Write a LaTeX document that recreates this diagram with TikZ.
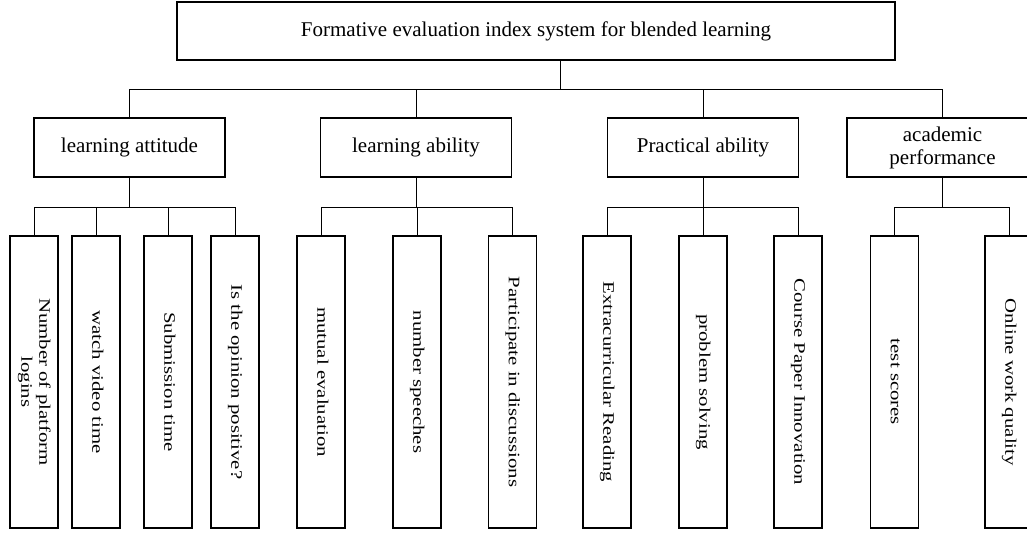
\documentclass[tikz,border=0pt]{standalone}
\usepackage{fontspec}
\setmainfont{Liberation Serif}
\usepackage{graphicx}
\newcommand{\vlabel}[1]{\rotatebox{-90}{\scalebox{1.3}[1]{\begin{tabular}{@{}c@{}}#1\end{tabular}}}}

\begin{document}
\begin{tikzpicture}[x=1pt,y=-1pt,
	box/.style={draw,line width=1.2pt,inner sep=0pt,minimum width=191pt,minimum height=59pt,align=center,font=\fontsize{21}{23}\selectfont},
	leaf/.style={draw,line width=1.2pt,inner sep=0pt,minimum width=48pt,minimum height=292pt,font=\fontsize{16}{18}\selectfont},
	link/.style={line width=1pt}]
		\useasboundingbox (0,0) rectangle (1027,533);
		%\draw [help lines] (0,0) grid (1027,533);
		% Root
		\node [box,minimum width=718pt,minimum height=58pt] (top) at (536,31) {Formative evaluation index system for blended learning};
		
		% Criteria
		\node [box] (att) at (129.5,147.5) {learning attitude};
		\node [box] (abl) at (416,147.5) {learning ability};
		\node [box] (prc) at (703,147.5) {Practical ability};
		\node [box] (acd) at (942.5,147.5) {academic\\performance};
		
		% Indicators
		\node [leaf] (l1) at (34,382) {\vlabel{Number of platform\\logins}};
		\node [leaf] (l2) at (96,382) {\vlabel{watch video time}};
		\node [leaf] (l3) at (168,382) {\vlabel{Submission time}};
		\node [leaf] (l4) at (235,382) {\vlabel{Is the opinion positive?}};
		\node [leaf] (l5) at (321,382) {\vlabel{mutual evaluation}};
		\node [leaf] (l6) at (417,382) {\vlabel{number speeches}};
		\node [leaf] (l7) at (512.5,382) {\vlabel{Participate in discussions}};
		\node [leaf] (l8) at (607,382) {\vlabel{Extracurricular Reading}};
		\node [leaf] (l9) at (703,382) {\vlabel{problem solving}};
		\node [leaf] (l10) at (798,382) {\vlabel{Course Paper Innovation}};
		\node [leaf] (l11) at (894.5,382) {\vlabel{test scores}};
		\node [leaf] (l12) at (1009,382) {\vlabel{Online work quality}};
		
		% Links
		\draw [link] ([xshift=24pt]top.south) -- ++(0,29) coordinate (bus);
		\foreach \c in {att,abl,prc,acd}
			\draw [link] (bus) -| (\c.north);
		\foreach \c/\list in {att/{l1,l2,l3,l4},abl/{l5,l6,l7},prc/{l8,l9,l10},acd/{l11,l12}}{
			\draw [link] (\c.south) -- ++(0,30) coordinate (\c bus);
			\foreach \l in \list
				\draw [link] (\c bus) -| (\l.north);
		}
	\end{tikzpicture}
\end{document}
